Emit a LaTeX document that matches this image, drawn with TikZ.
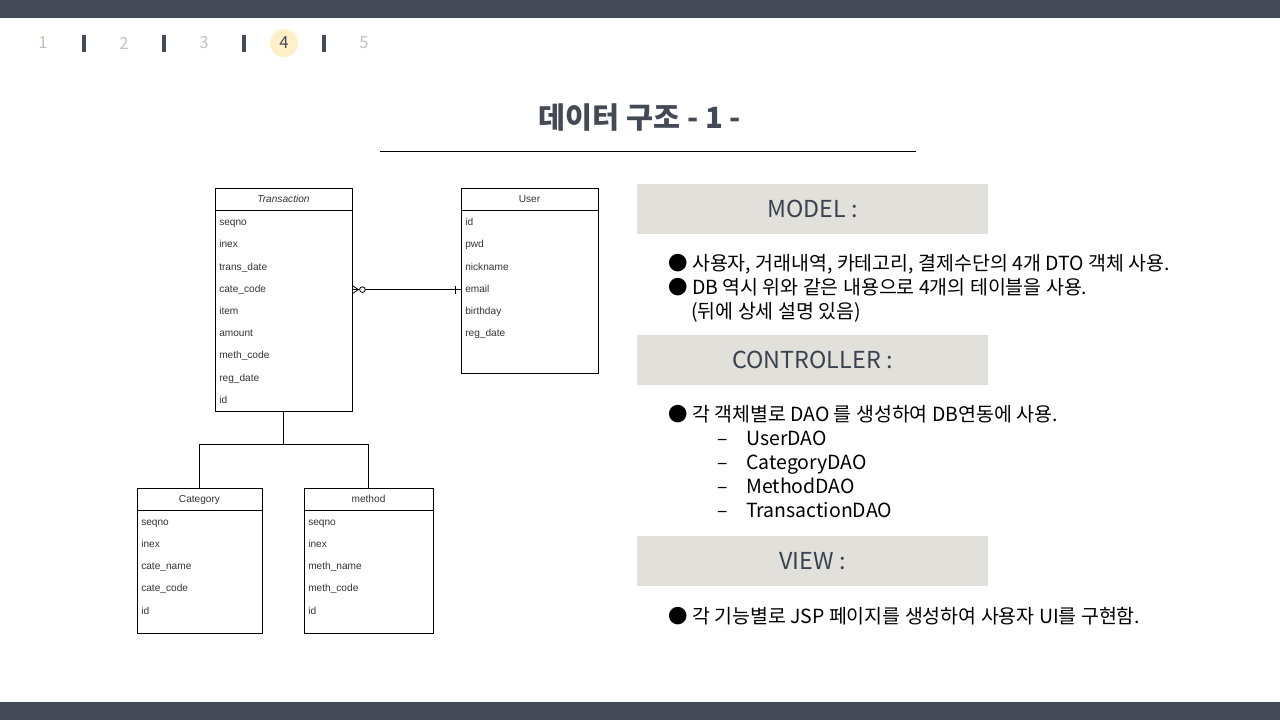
\documentclass[tikz,border=0pt]{standalone}
\usepackage{fontspec}
\setmainfont{Noto Sans CJK KR}
\newfontfamily\erdfont{Liberation Sans}
\usetikzlibrary{fit}

\definecolor{slate}{HTML}{434A55}
\definecolor{bandgray}{HTML}{E1E0DA}
\definecolor{pagegray}{HTML}{C4C0B8}
\definecolor{pagehi}{HTML}{FFF0C8}
\definecolor{labelink}{HTML}{3A4250}
\definecolor{erdink}{HTML}{333333}

\tikzset{
  tbl/.style={draw=black, line width=0.6pt, inner sep=0pt},
  fld/.style={anchor=west, inner sep=0pt, yshift=-1pt, text height=6pt, text depth=2pt, text=erdink,
    font=\erdfont\fontsize{7.6}{9}\selectfont},
  hdr/.style={inner sep=0pt, yshift=-0.5pt, text height=6pt, text depth=2pt, text=erdink,
    font=\erdfont\fontsize{7.6}{9}\selectfont},
  band/.style={fill=bandgray, minimum width=263.25pt, minimum height=37.5pt, inner sep=0pt,
    text=labelink, font=\fontsize{17.5}{20}\selectfont},
  body/.style={anchor=west, inner sep=0pt, yshift=-2pt, text height=11pt, text depth=3pt,
    font=\fontsize{14.6}{17}\selectfont},
  pagenum/.style={inner sep=0pt, text=pagegray, font=\fontsize{12.5}{15}\selectfont}
}

\begin{document}
\begin{tikzpicture}[x=0.75pt, y=-0.75pt]
  \useasboundingbox (0,0) rectangle (1280,720);
  % top and bottom bars
  \fill[slate] (0,0) rectangle (1280,18);
  \fill[slate] (0,702) rectangle (1280,720);

  % page numbers
  \fill[pagehi] (284,43) circle (10.5pt);
  \foreach \n/\x in {1/43, 2/124, 3/204, 5/364}
    \node[pagenum] (p\n) at (\x,43) {\n};
  \node[pagenum, text=slate] (p4) at (284,43) {4};
  \foreach \x in {84,164,244,324}
    \draw[slate, line width=2.4pt] (\x,35) -- (\x,52);

  % title
  \node[inner sep=0pt, text=slate, font=\bfseries\fontsize{22}{26}\selectfont] (title) at (640,118) {데이터 구조 - 1 -};
  \draw[black, line width=0.75pt] (380,152) -- (916,152);

  % ERD tables
  \node[tbl, fit={(215,188) (352,411)}] (trans) {};
  \draw[line width=0.6pt] (215,210) -- (352,210);
  \node[hdr, font=\erdfont\itshape\fontsize{7.6}{9}\selectfont] (transhdr) at (283.5,199.5) {Transaction};
  \foreach \f [count=\i] in {seqno,inex,trans\_date,cate\_code,item,amount,meth\_code,reg\_date,id}
    \node[fld] (t\i) at (219,{199.5+22.2*\i}) {\f};

  \node[tbl, fit={(461,188) (598,373)}] (user) {};
  \draw[line width=0.6pt] (461,210) -- (598,210);
  \node[hdr] (userhdr) at (529.5,199.5) {User};
  \foreach \f [count=\i] in {id,pwd,nickname,email,birthday,reg\_date}
    \node[fld] (u\i) at (465,{199.5+22.2*\i}) {\f};

  \node[tbl, fit={(137,488) (262,633)}] (cat) {};
  \draw[line width=0.6pt] (137,510) -- (262,510);
  \node[hdr] (cathdr) at (199.5,499) {Category};
  \foreach \f [count=\i] in {seqno,inex,cate\_name,cate\_code,id}
    \node[fld] (c\i) at (141,{499+22.2*\i}) {\f};

  \node[tbl, fit={(304,488) (433,633)}] (meth) {};
  \draw[line width=0.6pt] (304,510) -- (433,510);
  \node[hdr] (methhdr) at (368.5,499) {method};
  \foreach \f [count=\i] in {seqno,inex,meth\_name,meth\_code,id}
    \node[fld] (m\i) at (308,{499+22.2*\i}) {\f};

  % relation Transaction -- User
  \coordinate (tc) at (trans.east |- t4);
  \coordinate (ue) at (user.west |- u4);
  \draw[line width=0.6pt] (tc) -- (ue);
  \draw[line width=0.6pt] ([yshift=3pt]tc) -- ([xshift=4.5pt]tc) -- ([yshift=-3pt]tc);
  \draw[line width=0.6pt, fill=white] ([xshift=7.5pt]tc) circle (2.1pt);
  \draw[line width=0.6pt] ([xshift=-3.75pt, yshift=3pt]ue) -- ([xshift=-3.75pt, yshift=-3pt]ue);

  % relation Transaction -- Category / method
  \draw[line width=1.2pt] (trans.south) -- ++(0,33) coordinate (split);
  \draw[line width=0.6pt] (split) -| (cat.north);
  \draw[line width=0.6pt] (split) -| (meth.north);

  % MODEL
  \node[band] (model) at (812.5,209) {MODEL :};
  \node[body] (m1) at (668,262) {● 사용자, 거래내역, 카테고리, 결제수단의 4개 DTO 객체 사용.};
  \node[body] (m2) at (668,286) {● DB 역시 위와 같은 내용으로 4개의 테이블을 사용.};
  \node[body] (m3) at (691,310) {(뒤에 상세 설명 있음)};

  % CONTROLLER
  \node[band] (ctrl) at (812.5,360) {CONTROLLER :};
  \node[body] (c0) at (668,413) {● 각 객체별로 DAO 를 생성하여 DB연동에 사용.};
  \foreach \d [count=\i] in {UserDAO,CategoryDAO,MethodDAO,TransactionDAO} {
    \node[body] (dash\i) at (717,{413+24*\i}) {–};
    \node[body] (dao\i) at (746,{413+24*\i}) {\d};
  }

  % VIEW
  \node[band] (view) at (812.5,561) {VIEW :};
  \node[body] (v1) at (668,615) {● 각 기능별로 JSP 페이지를 생성하여 사용자 UI를 구현함.};
\end{tikzpicture}
\end{document}
